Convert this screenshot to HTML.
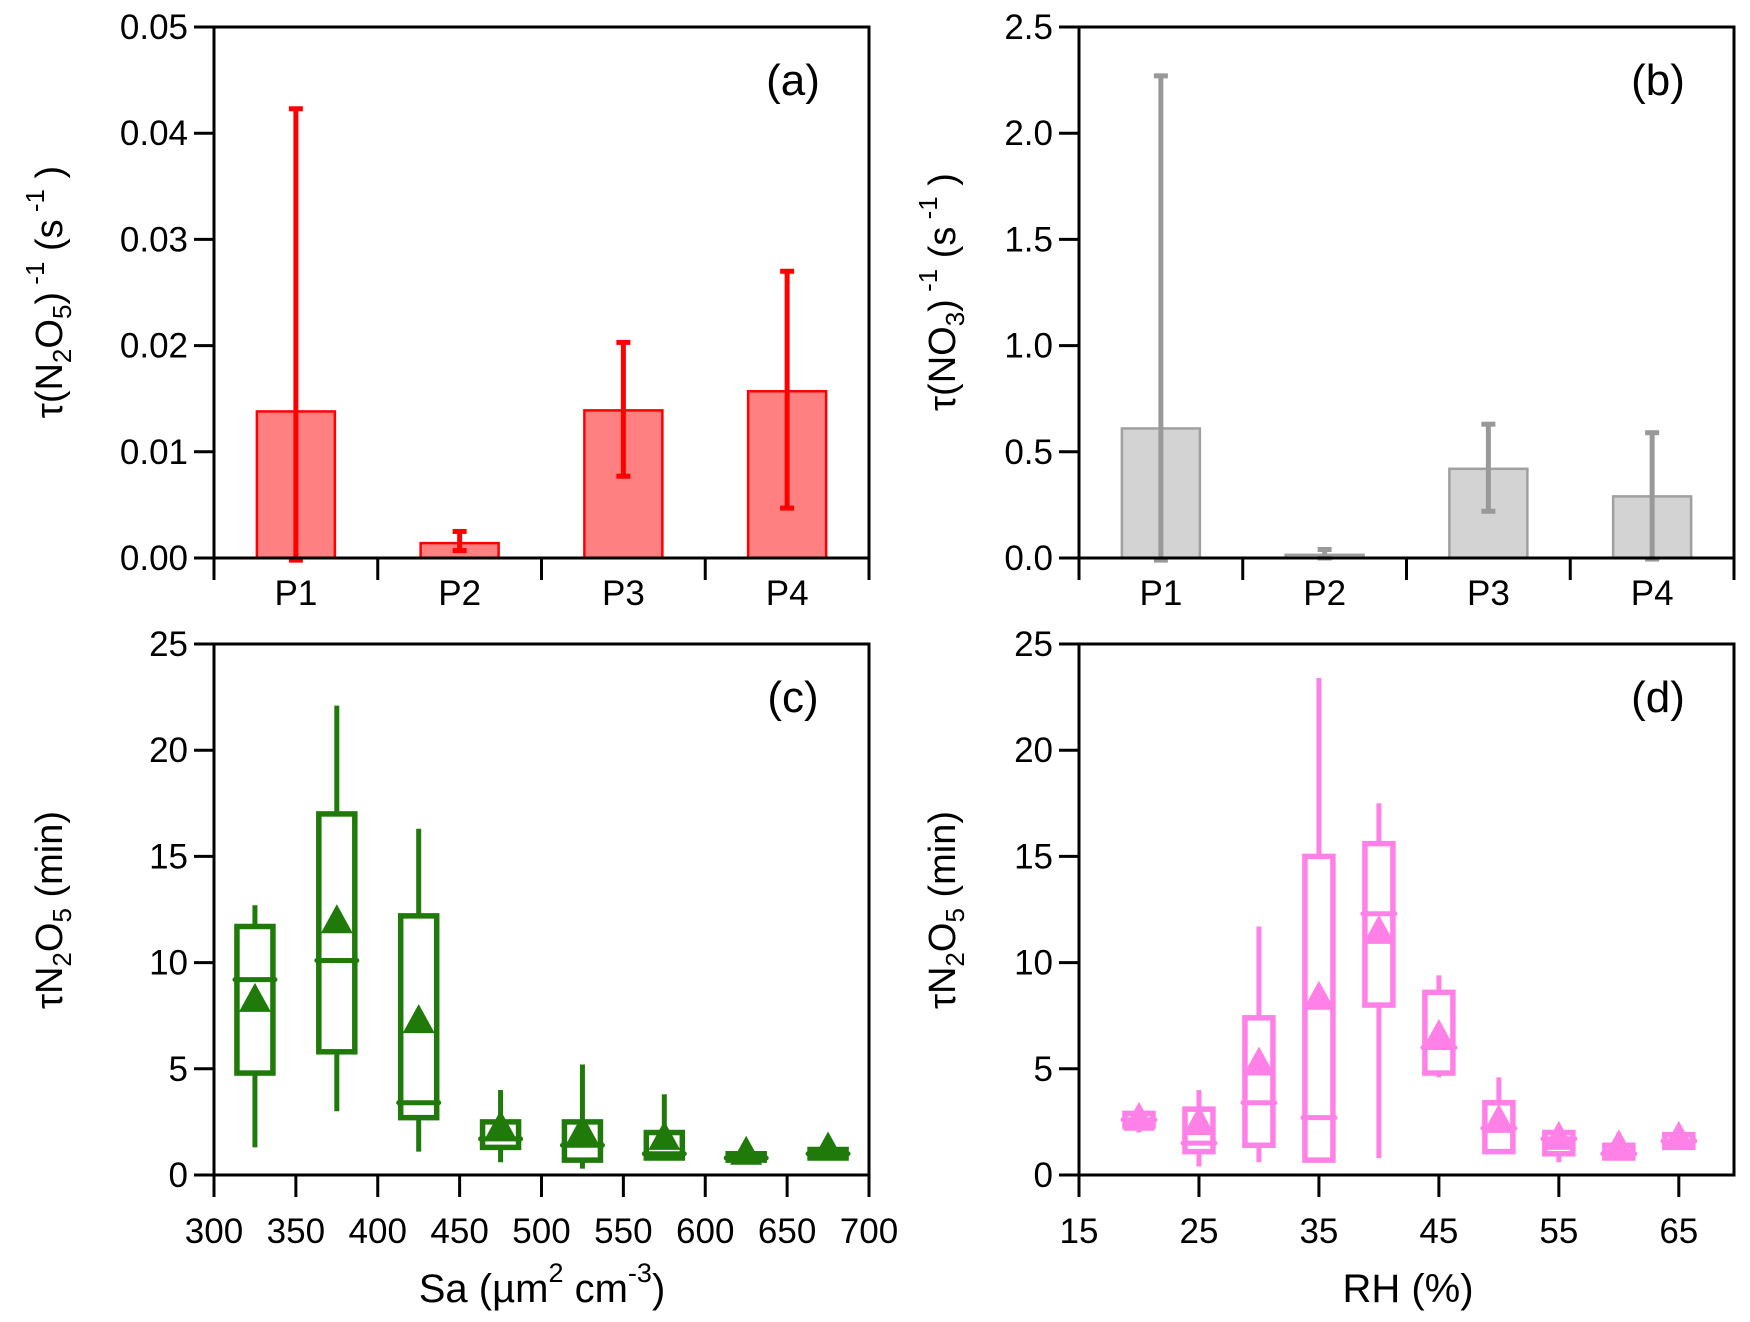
<!DOCTYPE html>
<html><head><meta charset="utf-8"><style>
html,body{margin:0;padding:0;background:#fff;}
svg{display:block;font-family:"Liberation Sans",Arial,sans-serif;}
</style></head><body>
<svg id="fig" width="1750" height="1322" viewBox="0 0 1750 1322" xmlns="http://www.w3.org/2000/svg"></svg>
<script>
// Panel (a) data
const catsA = ["P1","P2","P3","P4"];
const valsA = [0.0138,0.0014,0.0139,0.0157];
const hiA = [0.0423,0.0025,0.0203,0.0270];
const loA = [-0.0002,0.0007,0.0077,0.0047];
const ticksA = [0,0.01,0.02,0.03,0.04,0.05];
const tickLabA = ["0.00","0.01","0.02","0.03","0.04","0.05"];
// Panel (b) data
const catsB = ["P1","P2","P3","P4"];
const valsB = [0.61,0.015,0.42,0.29];
const hiB = [2.27,0.04,0.63,0.59];
const loB = [-0.01,0.0,0.22,-0.005];
const ticksB = [0,0.5,1.0,1.5,2.0,2.5];
const tickLabB = ["0.0","0.5","1.0","1.5","2.0","2.5"];
// Panel (c) data
const xC = [325,375,425,475,525,575,625,675];
const wLoC = [1.3,3.0,1.1,0.6,0.3,0.7,0.7,0.8];
const q1C = [4.8,5.8,2.7,1.3,0.7,0.8,0.7,0.8];
const medC = [9.2,10.1,3.4,1.7,1.4,1.0,0.8,1.0];
const q3C = [11.7,17.0,12.2,2.5,2.5,2.0,1.0,1.2];
const wHiC = [12.7,22.1,16.3,4.0,5.2,3.8,1.0,1.2];
const meanC = [8.2,11.9,7.2,2.2,2.0,1.7,1.0,1.2];
const xTicksC = [300,350,400,450,500,550,600,650,700];
// Panel (d) data
const xD = [20,25,30,35,40,45,50,55,60,65];
const wLoD = [2.0,0.4,0.6,0.6,0.8,4.6,1.1,0.6,0.7,1.2];
const q1D = [2.3,1.1,1.4,0.7,8.0,4.8,1.1,1.0,0.8,1.3];
const medD = [2.6,1.5,3.4,2.7,12.3,6.0,2.2,1.7,1.0,1.6];
const q3D = [2.9,3.1,7.4,15.0,15.6,8.6,3.4,2.0,1.4,1.9];
const wHiD = [3.0,4.0,11.7,23.4,17.5,9.4,4.6,2.0,2.0,1.9];
const meanD = [2.6,2.4,5.2,8.3,11.4,6.5,2.5,1.7,1.3,1.7];
const xTicksD = [15,25,35,45,55,65];
const yTicksCD = [0,5,10,15,20,25];

const NS="http://www.w3.org/2000/svg";
const svg=document.getElementById('fig');
function el(tag,attrs,parent,txt){const e=document.createElementNS(NS,tag);for(const k in attrs)e.setAttribute(k,attrs[k]);if(txt!==undefined)e.textContent=txt;(parent||svg).appendChild(e);return e;}
function lin(d0,d1,r0,r1){return v=>r0+(v-d0)*(r1-r0)/(d1-d0);}

function frame(g,L,R,T,B){
  const f=el('rect',{x:L,y:T,width:R-L,height:B-T,fill:'none',stroke:'#000','stroke-width':3},g);
  
  
}
function yAxis(g,L,yS,ticks,labs){
  ticks.forEach((t,i)=>{
    const y=yS(t);
    const tk=el('line',{x1:L-20,x2:L,y1:y,y2:y,stroke:'#000','stroke-width':3},g);
    
    
    const tx=el('text',{x:L-26,y:y+12,'text-anchor':'end','font-size':35},g,labs[i]);
    
    
  });
}
function panelLabel(g,x,y,s){
  const t=el('text',{x:x,y:y,'font-size':44,'text-anchor':'middle'},g,s);
  
  
}

function barPanel(name,L,R,T,B,cats,vals,hi,lo,ticks,labs,ymax,fill,stroke,err,lab){
  const g=el('g',{});
  
  
  const yS=lin(0,ymax,B,T);
  const cw=(R-L)/cats.length;
  cats.forEach((c,i)=>{
    const cx=L+cw*(i+0.5);
    const b=el('rect',{x:cx-39,y:yS(vals[i]),width:78,height:B-yS(vals[i]),fill:fill,stroke:stroke,'stroke-width':2.5},g);
    
    
    const e=el('line',{x1:cx,x2:cx,y1:yS(hi[i]),y2:yS(lo[i]),stroke:err,'stroke-width':5},g);
    
    
    [hi[i],lo[i]].forEach(v=>{
      const cap=el('line',{x1:cx-7,x2:cx+7,y1:yS(v),y2:yS(v),stroke:err,'stroke-width':5},g);
      
      
    });
    const t=el('text',{x:cx,y:B+47,'text-anchor':'middle','font-size':35},g,c);
    
    
  });
  for(let i=0;i<=cats.length;i++){
    const x=L+cw*i;
    const tk=el('line',{x1:x,x2:x,y1:B,y2:B+22,stroke:'#000','stroke-width':3},g);
    
    
  }
  frame(g,L,R,T,B);
  yAxis(g,L,yS,ticks,labs);
  panelLabel(g,R-76,T+68,lab);
  return g;
}

function boxPanel(name,L,R,T,B,x0,x1,xs,wl,q1,md,q3,wh,mn,xticks,col,bw,lab){
  const g=el('g',{});
  
  
  const yS=lin(0,25,B,T), xS=lin(x0,x1,L,R);
  xs.forEach((xv,i)=>{
    const cx=xS(xv);
    const w1=el('line',{x1:cx,x2:cx,y1:yS(wh[i]),y2:yS(q3[i]),stroke:col,'stroke-width':5},g);
    
    
    const w2=el('line',{x1:cx,x2:cx,y1:yS(q1[i]),y2:yS(wl[i]),stroke:col,'stroke-width':5},g);
    
    
    const bx=el('rect',{x:cx-bw/2,y:yS(q3[i]),width:bw,height:Math.max(1,yS(q1[i])-yS(q3[i])),fill:'#fff',stroke:col,'stroke-width':5.5},g);
    
    
    const m=el('line',{x1:cx-bw/2-2,x2:cx+bw/2+2,y1:yS(md[i]),y2:yS(md[i]),stroke:col,'stroke-width':5,'stroke-linecap':'round'},g);
    
    
    const my=yS(mn[i]);
    const tr=el('polygon',{points:`${cx},${my-18} ${cx-16},${my+11} ${cx+16},${my+11}`,fill:col},g);
    
    
  });
  xticks.forEach(t=>{
    const x=xS(t);
    const tk=el('line',{x1:x,x2:x,y1:B,y2:B+22,stroke:'#000','stroke-width':3},g);
    
    
    const tx=el('text',{x:x,y:B+68,'text-anchor':'middle','font-size':35},g,String(t));
    
    
  });
  frame(g,L,R,T,B);
  yAxis(g,L,yS,yTicksCD,yTicksCD.map(String));
  panelLabel(g,R-76,T+68,lab);
  return g;
}

barPanel('panel-a',214,869,27,558,catsA,valsA,hiA,loA,ticksA,tickLabA,0.05,'#ff8080','#ff0000','#ff0000','(a)');
barPanel('panel-b',1079,1734,27,558,catsB,valsB,hiB,loB,ticksB,tickLabB,2.5,'#d3d3d3','#a0a0a0','#999999','(b)');
boxPanel('panel-c',214,869,644,1175,300,700,xC,wLoC,q1C,medC,q3C,wHiC,meanC,xTicksC,'#1f7a0a',36,'(c)');
boxPanel('panel-d',1079,1734,644,1175,15,69.6,xD,wLoD,q1D,medD,q3D,wHiD,meanD,xTicksD,'#ff80e6',28,'(d)');
</script>
<div style="position:absolute;left:0;top:0;width:1750px;height:1322px;pointer-events:none;font-family:'Liberation Sans',Arial,sans-serif;">
<svg width="1750" height="1322" style="position:absolute;left:0;top:0">
<text transform="translate(62,292) rotate(-90)" text-anchor="middle" font-size="38" font-family="Liberation Sans, Arial, sans-serif">τ(N<tspan font-size="26" dy="9">2</tspan><tspan dy="-9">O</tspan><tspan font-size="26" dy="9">5</tspan><tspan dy="-9">)</tspan><tspan font-size="26" dy="-18"> -1</tspan><tspan dy="18">  (s</tspan><tspan font-size="26" dy="-18"> -1</tspan><tspan dy="18"> )</tspan></text>
<text transform="translate(955,292) rotate(-90)" text-anchor="middle" font-size="38" font-family="Liberation Sans, Arial, sans-serif">τ(NO<tspan font-size="26" dy="9">3</tspan><tspan dy="-9">)</tspan><tspan font-size="26" dy="-18"> -1</tspan><tspan dy="18">  (s</tspan><tspan font-size="26" dy="-18"> -1</tspan><tspan dy="18"> )</tspan></text>
<text transform="translate(62,910) rotate(-90)" text-anchor="middle" font-size="38" font-family="Liberation Sans, Arial, sans-serif">τN<tspan font-size="26" dy="9">2</tspan><tspan dy="-9">O</tspan><tspan font-size="26" dy="9">5</tspan><tspan dy="-9"> (min)</tspan></text>
<text transform="translate(955,910) rotate(-90)" text-anchor="middle" font-size="38" font-family="Liberation Sans, Arial, sans-serif">τN<tspan font-size="26" dy="9">2</tspan><tspan dy="-9">O</tspan><tspan font-size="26" dy="9">5</tspan><tspan dy="-9"> (min)</tspan></text>
<text x="542" y="1302" text-anchor="middle" font-size="40" font-family="Liberation Sans, Arial, sans-serif">Sa (µm<tspan font-size="27" dy="-20">2</tspan><tspan dy="20">  cm</tspan><tspan font-size="27" dy="-20">-3</tspan><tspan dy="20">)</tspan></text>
<text x="1408" y="1302" text-anchor="middle" font-size="40" font-family="Liberation Sans, Arial, sans-serif">RH (%)</text>
</svg>
</div>
</body></html>
